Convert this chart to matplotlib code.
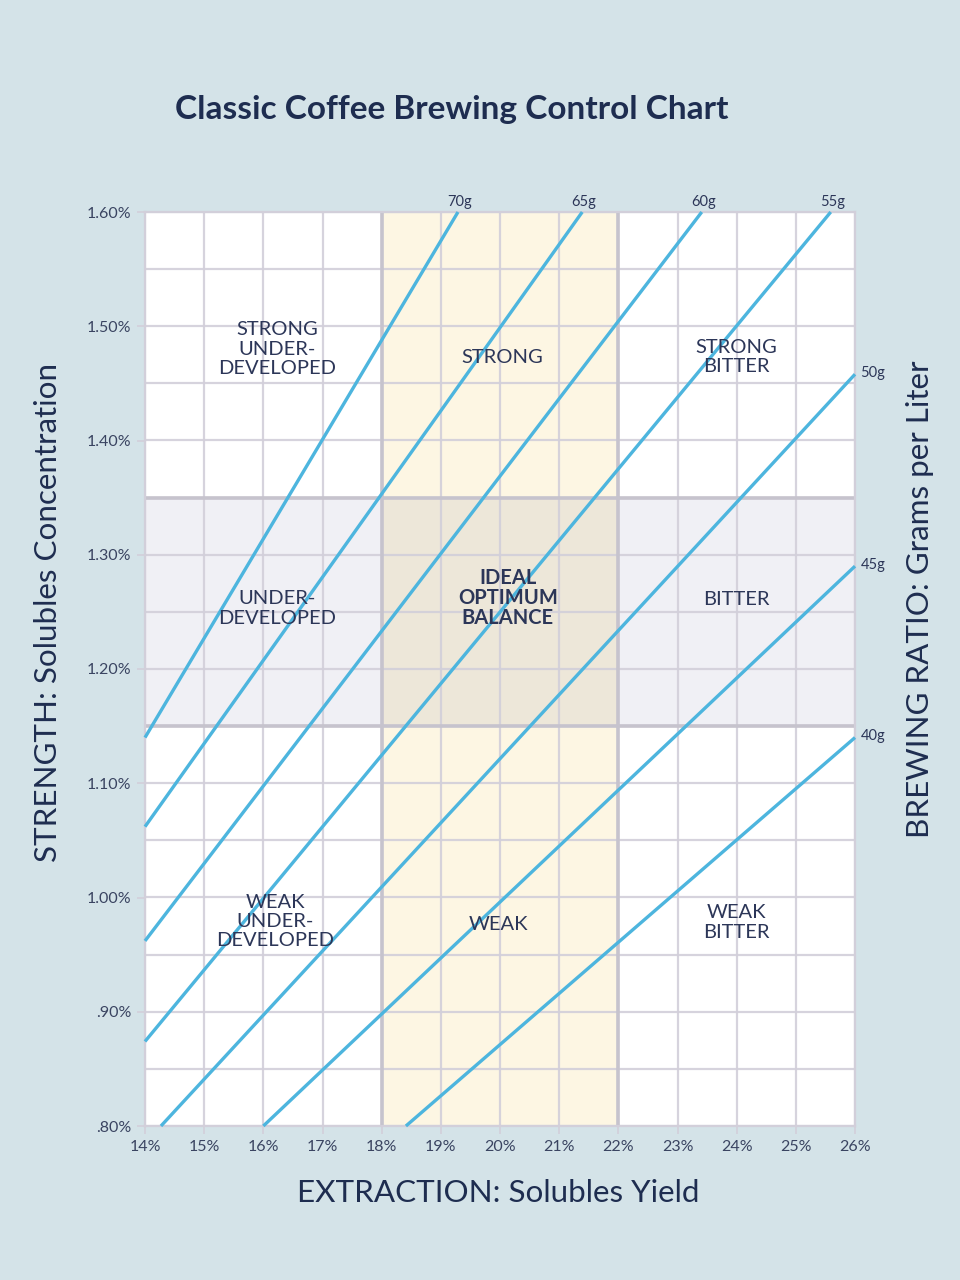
import matplotlib
matplotlib.use("Agg")
import matplotlib.pyplot as plt
import numpy as np

# ---------------- data ----------------
ratio_labels = ['70g', '65g', '60g', '55g', '50g', '45g', '40g']
ey_start = [14.0, 14.0, 14.0, 14.0, 14.27, 16.0, 18.41]
tds_start = [1.14, 1.062, 0.962, 0.874, 0.80, 0.80, 0.80]
ey_end = [19.29, 21.39, 23.41, 25.59, 26.0, 26.0, 26.0]
tds_end = [1.60, 1.60, 1.60, 1.60, 1.458, 1.290, 1.140]

x_ticks = [14, 15, 16, 17, 18, 19, 20, 21, 22, 23, 24, 25, 26]
x_tick_labels = ['14%', '15%', '16%', '17%', '18%', '19%', '20%', '21%', '22%', '23%', '24%', '25%', '26%']
y_ticks = [0.80, 0.90, 1.00, 1.10, 1.20, 1.30, 1.40, 1.50, 1.60]
y_tick_labels = ['.80%', '.90%', '1.00%', '1.10%', '1.20%', '1.30%', '1.40%', '1.50%', '1.60%']

ideal_ey = [18.0, 22.0]
ideal_tds = [1.15, 1.35]

region_texts = ['STRONG\nUNDER-\nDEVELOPED', 'STRONG', 'STRONG\nBITTER',
                'UNDER-\nDEVELOPED', 'IDEAL\nOPTIMUM\nBALANCE', 'BITTER',
                'WEAK\nUNDER-\nDEVELOPED', 'WEAK', 'WEAK\nBITTER']
region_x = [16.23, 20.03, 24.0, 16.23, 20.13, 24.0, 16.2, 19.98, 24.0]
region_y = [1.480, 1.473, 1.473, 1.253, 1.262, 1.261, 0.979, 0.976, 0.978]
region_bold = [False, False, False, False, True, False, False, False, False]

# ---------------- style ----------------
BG = '#d4e3e8'
NAVY = '#1e2d50'
TEXT = '#2c3658'
GRID = '#d2cfda'
BAND_LINE = '#c6c3cd'
BLUE = '#4db5de'
FONT = ['Lato', 'DejaVu Sans']

plt.rcParams['font.family'] = FONT

fig = plt.figure(figsize=(9.6, 12.8), dpi=100, facecolor=BG)
ax = fig.add_axes([145/960, 1-1126/1280, 710/960, 914/1280])
ax.set_facecolor('white')
ax.set_xlim(14, 26)
ax.set_ylim(0.80, 1.60)

# bands
ax.axvspan(ideal_ey[0], ideal_ey[1], color='#fdf6e3', zorder=0.5, lw=0)
ax.axhspan(ideal_tds[0], ideal_tds[1], color='#f0f0f5', zorder=0.6, lw=0)
ax.fill_between(ideal_ey, ideal_tds[0], ideal_tds[1], color='#ede7d9', zorder=0.7, lw=0)

# grid
for xv in np.arange(14, 26.01, 1.0):
    ax.axvline(xv, color=GRID, lw=1.6, zorder=1, alpha=0.9)
for yv in np.arange(0.80, 1.601, 0.05):
    ax.axhline(yv, color=GRID, lw=1.6, zorder=1, alpha=0.9)
for xv in ideal_ey:
    ax.axvline(xv, color=BAND_LINE, lw=2.6, zorder=1.2)
for yv in ideal_tds:
    ax.axhline(yv, color=BAND_LINE, lw=2.6, zorder=1.2)

for s in ax.spines.values():
    s.set_color(GRID)
    s.set_linewidth(1.6)

# ratio lines
for lab, x0, y0, x1, y1 in zip(ratio_labels, ey_start, tds_start, ey_end, tds_end):
    ax.plot([x0, x1], [y0, y1], color=BLUE, lw=2.4, solid_capstyle='butt', zorder=3, clip_on=False)
    if y1 >= 1.599:
        ax.annotate(lab, (x1, y1), xytext=(1, 2), textcoords='offset points',
                    ha='center', va='bottom', fontsize=10.5, color=TEXT, annotation_clip=False)
    else:
        ax.annotate(lab, (x1, y1), xytext=(4, 1), textcoords='offset points',
                    ha='left', va='center', fontsize=10.5, color=TEXT, annotation_clip=False)

# region labels
for t, x, y, b in zip(region_texts, region_x, region_y, region_bold):
    ax.text(x, y, t, ha='center', va='center', fontsize=14.5, color=TEXT,
            fontweight='bold' if b else 'normal',
            linespacing=1.0 if b else 1.17, zorder=4)

# ticks
ax.set_xticks(x_ticks)
ax.set_xticklabels(x_tick_labels)
ax.set_yticks(y_ticks)
ax.set_yticklabels(y_tick_labels)
ax.tick_params(axis='both', direction='out', length=6, width=1.2, color=GRID,
               labelsize=11.5, labelcolor='#3a4461', pad=4)

# axis titles
fig.text(175/960, 1-110/1280, 'Classic Coffee Brewing Control Chart', ha='left', va='center',
         fontsize=24, fontweight='bold', color=NAVY)
fig.text(498/960, 1-1193/1280, 'EXTRACTION: Solubles Yield', ha='center', va='center',
         fontsize=22.6, color=NAVY)
fig.text(48/960, 1-613/1280, 'STRENGTH: Solubles Concentration', ha='center', va='center',
         rotation=90, fontsize=22.6, color=NAVY)
fig.text(920/960, 1-599/1280, 'BREWING RATIO: Grams per Liter', ha='center', va='center',
         rotation=90, fontsize=22.6, color=NAVY)

fig.savefig('out.png', dpi=100, facecolor=BG)
